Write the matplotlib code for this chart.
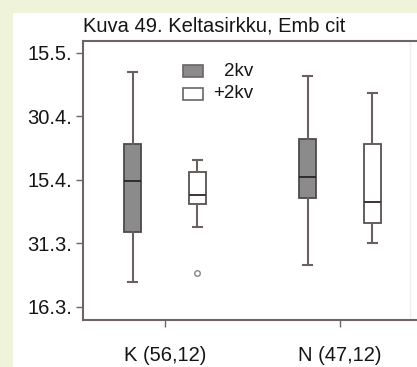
import matplotlib.pyplot as plt
from matplotlib.patches import Rectangle

plt.rcParams['font.family'] = ['Liberation Sans', 'DejaVu Sans']

# day of year (16.3. = 75 ... 15.5. = 135)
groups = ["K (56,12)", "N (47,12)"]
series = ["2kv", "+2kv"]
# per group: [whislo, q1, median, q3, whishi] for 2kv and +2kv
stats_2kv = [[80.9, 92.7, 104.8, 113.5, 130.5],
             [84.9, 100.7, 105.7, 114.7, 129.6]]
stats_plus = [[93.9, 99.3, 101.5, 106.9, 109.7],
              [90.1, 94.8, 99.8, 113.5, 125.6]]
outliers_2kv = [[], []]
outliers_plus = [[83.0], []]
ytick_days = [75, 90, 105, 120, 135]
ytick_labels = ["16.3.", "31.3.", "15.4.", "30.4.", "15.5."]

fig = plt.figure(figsize=(4.17, 3.67), dpi=100)
fig.patch.set_facecolor('#eef3da')
fig.add_artist(Rectangle((13 / 417, 0), 1, 1 - 13 / 367, transform=fig.transFigure,
                         facecolor='white', edgecolor='none', zorder=-1))

ax = fig.add_axes([83 / 417, 1 - 320 / 367, 1 - 83 / 417, (320 - 41) / 367])
ax.set_facecolor('none')


def to_stats(s, fl):
    return dict(whislo=s[0], q1=s[1], med=s[2], q3=s[3], whishi=s[4], fliers=fl)


off = 0.185
pos_a = [i + 1 - off for i in range(len(groups))]
pos_b = [i + 1 + off for i in range(len(groups))]
line = '#6a6060'

ax.bxp([to_stats(s, f) for s, f in zip(stats_2kv, outliers_2kv)], positions=pos_a,
       widths=0.097, capwidths=0.05, patch_artist=True,
       boxprops=dict(facecolor='#8b8b8b', edgecolor='#4e4a4a', linewidth=1.3),
       medianprops=dict(color='#2a2626', linewidth=1.3),
       whiskerprops=dict(color=line, linewidth=1.5),
       capprops=dict(color=line, linewidth=1.5))
ax.bxp([to_stats(s, f) for s, f in zip(stats_plus, outliers_plus)], positions=pos_b,
       widths=0.097, capwidths=0.05, patch_artist=True,
       boxprops=dict(facecolor='white', edgecolor='#575252', linewidth=1.3),
       medianprops=dict(color='#3a3535', linewidth=1.4),
       whiskerprops=dict(color=line, linewidth=1.5),
       capprops=dict(color=line, linewidth=1.5),
       flierprops=dict(marker='o', markersize=4, markerfacecolor='none',
                       markeredgecolor='#8a8585', markeredgewidth=1))

ax.set_xlim(1 - 82 / 175, 2 + 77 / 175)
ax.set_ylim(71.9, 137.8)
ax.set_xticks([1, 2])
ax.set_xticklabels(groups, fontsize=14.5, color='#151515')
ax.set_yticks(ytick_days)
ax.set_yticklabels(ytick_labels, fontsize=14.5, color='#151515')
ax.tick_params(axis='both', length=5, width=1, color='#6d6464', pad=3)
ax.tick_params(axis='x', pad=14)
ax.axvline(2.4, color='#f2eeee', linewidth=1)
for side in ['left', 'top', 'bottom']:
    ax.spines[side].set_color('#6d6464')
    ax.spines[side].set_linewidth(1.5)
ax.spines['right'].set_visible(False)

ax.text(0.0, 1.02, "Kuva 49. Keltasirkku, Emb cit", transform=ax.transAxes,
        fontsize=14.5, ha='left', va='bottom', color='#151515')

# legend
for k, (fc, label) in enumerate([('#8b8b8b', "2kv"), ('white', "+2kv")]):
    y0 = 1 - (77 + 23 * k) / 367
    fig.add_artist(Rectangle((183 / 417, y0), 20 / 417, 12 / 367, transform=fig.transFigure,
                             facecolor=fc, edgecolor='#6a6565', linewidth=1.2))
    fig.text(253 / 417, y0 + 6 / 367, label, ha='right', va='center', fontsize=13.5,
             color='#151515')

fig.savefig("out.png", dpi=100, facecolor=fig.get_facecolor())
